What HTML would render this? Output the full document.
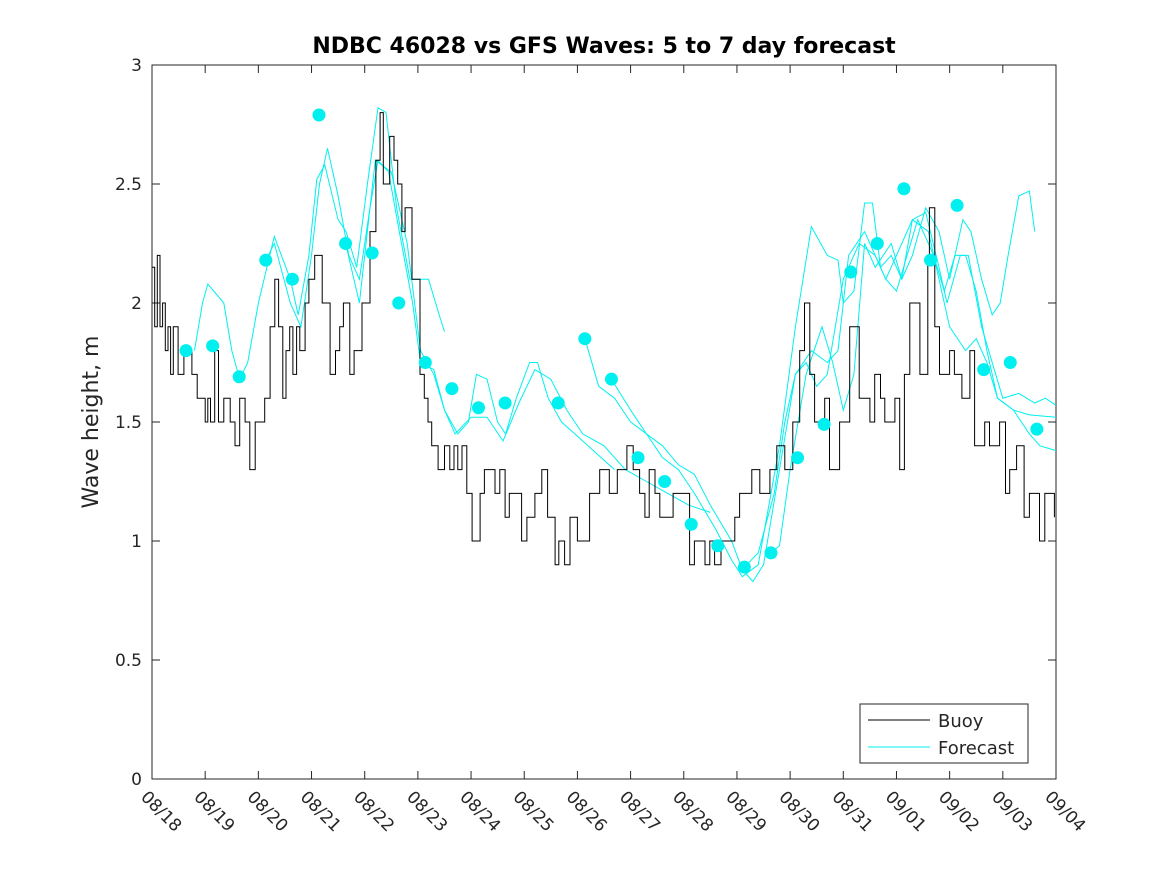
<!DOCTYPE html>
<html><head><meta charset="utf-8"><style>
body{margin:0;background:#fff;}
svg{display:block;font-family:"DejaVu Sans","Liberation Sans",sans-serif;}
</style></head><body>
<svg id="chart" width="1167" height="875" viewBox="0 0 1167 875" xmlns="http://www.w3.org/2000/svg">
<rect width="1167" height="875" fill="#fff"/>
<text x="604" y="53" text-anchor="middle" font-size="22" font-weight="bold" fill="#000">NDBC 46028 vs GFS Waves: 5 to 7 day forecast</text>
<text transform="translate(98,422) rotate(-90)" text-anchor="middle" font-size="22" fill="#262626">Wave height, m</text>
<g id="plot"></g>
</svg>
<script>
const xTickLabels=["08/18","08/19","08/20","08/21","08/22","08/23","08/24","08/25","08/26","08/27","08/28","08/29","08/30","08/31","09/01","09/02","09/03","09/04"];
const yTicks=[0,0.5,1,1.5,2,2.5,3];
const buoyDays=[0,0.05,0.1,0.15,0.2,0.25,0.3,0.35,0.4,0.49,0.6,0.75,0.85,1.0,1.05,1.1,1.18,1.25,1.35,1.47,1.56,1.65,1.75,1.84,1.94,2.03,2.12,2.22,2.31,2.38,2.46,2.52,2.59,2.65,2.72,2.78,2.88,2.95,3.06,3.2,3.35,3.45,3.53,3.6,3.72,3.8,3.95,4.1,4.21,4.29,4.35,4.47,4.55,4.62,4.7,4.76,4.89,5.04,5.12,5.19,5.26,5.38,5.5,5.6,5.68,5.75,5.83,5.92,6.02,6.17,6.25,6.35,6.45,6.54,6.64,6.72,6.82,6.95,7.05,7.2,7.33,7.44,7.58,7.65,7.76,7.86,8.0,8.23,8.42,8.6,8.75,8.93,9.05,9.17,9.27,9.35,9.46,9.55,9.64,9.8,9.92,10.11,10.2,10.3,10.4,10.49,10.58,10.7,10.77,10.96,11.05,11.15,11.28,11.43,11.62,11.75,11.9,12.05,12.18,12.27,12.37,12.46,12.65,12.74,12.93,13.12,13.3,13.5,13.59,13.7,13.78,13.97,14.06,14.15,14.25,14.44,14.59,14.62,14.72,14.81,15.0,15.09,15.23,15.38,15.47,15.66,15.75,15.94,16.05,16.13,16.26,16.4,16.5,16.69,16.79,16.97];
const buoyValues=[2.15,1.9,2.2,1.9,2.0,1.8,1.9,1.7,1.9,1.7,1.8,1.7,1.6,1.5,1.6,1.5,1.8,1.5,1.6,1.5,1.4,1.6,1.5,1.3,1.5,1.5,1.6,1.9,2.1,1.9,1.6,1.8,1.9,1.7,1.9,1.8,2.0,2.1,2.2,2.0,1.7,1.8,1.9,2.0,1.7,1.8,2.0,2.3,2.6,2.8,2.5,2.7,2.6,2.5,2.3,2.4,2.1,1.7,1.6,1.5,1.4,1.3,1.4,1.3,1.4,1.3,1.4,1.2,1.0,1.2,1.3,1.3,1.2,1.3,1.1,1.2,1.2,1.0,1.1,1.2,1.3,1.1,0.9,1.0,0.9,1.1,1.0,1.2,1.3,1.2,1.3,1.4,1.3,1.2,1.1,1.3,1.2,1.1,1.1,1.2,1.2,0.9,1.0,1.0,0.9,1.0,0.9,1.0,1.0,1.1,1.2,1.2,1.3,1.2,1.3,1.4,1.3,1.5,1.8,2.0,1.7,1.5,1.6,1.3,1.5,1.9,1.6,1.5,1.7,1.6,1.5,1.6,1.3,1.7,2.0,1.7,2.2,2.4,1.9,1.7,1.8,1.7,1.6,1.8,1.4,1.5,1.4,1.5,1.2,1.3,1.4,1.1,1.2,1.0,1.2,1.1,1.2,1.0,1.1,1.0];
const dotDays=[0.64,1.14,1.64,2.14,2.64,3.14,3.64,4.14,4.64,5.14,5.64,6.14,6.64,7.64,8.14,8.64,9.14,9.64,10.14,10.64,11.14,11.64,12.14,12.64,13.14,13.64,14.14,14.64,15.14,15.64,16.14,16.64];
const dotValues=[1.8,1.82,1.69,2.18,2.1,2.79,2.25,2.21,2.0,1.75,1.64,1.56,1.58,1.58,1.85,1.68,1.35,1.25,1.07,0.98,0.89,0.95,1.35,1.49,2.13,2.25,2.48,2.18,2.41,1.72,1.75,1.47];
const fc1Days=[0.8,0.95,1.05,1.35,1.5,1.65,1.8,2.0,2.3,2.6,2.75,2.95,3.1,3.25,3.5,3.65,3.85,4.05,4.25,4.4,4.6,4.85,5.2,5.4,5.5];
const fc1Values=[1.8,2.0,2.08,2.0,1.8,1.68,1.75,2.0,2.28,2.1,1.95,2.2,2.52,2.58,2.35,2.3,2.15,2.5,2.82,2.8,2.4,2.1,2.1,1.95,1.88];
const fc2Days=[2.14,2.3,2.6,2.8,3.0,3.15,3.3,3.5,3.7,3.9,4.1,4.25,4.45,4.65,4.9,5.05,5.3,5.5,5.75,5.95,6.1,6.3,6.5,6.65,6.85,7.1,7.25,7.45,7.7,7.95,8.2,8.45,8.7];
const fc2Values=[2.18,2.25,2.0,1.9,2.2,2.5,2.65,2.45,2.2,2.1,2.4,2.6,2.55,2.3,2.0,1.75,1.72,1.55,1.45,1.5,1.7,1.68,1.5,1.45,1.6,1.75,1.75,1.6,1.5,1.45,1.4,1.35,1.3];
const fc3Days=[3.64,3.9,4.2,4.5,4.8,5.05,5.3,5.5,5.7,6.0,6.3,6.6,6.9,7.2,7.5,7.8,8.1,8.5,8.9,9.3,9.7,10.1,10.5];
const fc3Values=[2.25,2.0,2.6,2.55,2.25,1.8,1.7,1.55,1.45,1.52,1.52,1.42,1.58,1.72,1.68,1.55,1.45,1.4,1.3,1.25,1.2,1.15,1.12];
const fc4Days=[8.14,8.4,8.7,9.0,9.3,9.6,9.9,10.2,10.6,10.9,11.1,11.4,11.8,12.1,12.4,12.7,12.9,13.0,13.2,13.4,13.55,13.7,13.9,14.1,14.3,14.55,14.8,15.0,15.25,15.4,15.6,15.8,15.95,16.1,16.3,16.5,16.6];
const fc4Values=[1.85,1.65,1.6,1.5,1.45,1.35,1.3,1.2,1.05,0.92,0.85,0.9,1.4,1.9,2.32,2.2,2.18,2.0,2.05,2.42,2.42,2.15,2.2,2.1,2.2,2.4,2.3,2.1,2.35,2.3,2.1,1.95,2.0,2.2,2.45,2.47,2.3];
const fc5Days=[8.64,9.0,9.3,9.6,9.9,10.2,10.5,10.9,11.1,11.3,11.5,11.8,12.1,12.4,12.7,12.9,13.1,13.4,13.6,13.8,14.0,14.2,14.4,14.7,14.9,15.1,15.3,15.5,15.7,15.9,16.2,16.5,17.0];
const fc5Values=[1.68,1.55,1.45,1.4,1.32,1.28,1.15,1.0,0.88,0.83,0.9,1.3,1.7,1.8,1.75,1.8,2.2,2.3,2.2,2.1,2.05,2.2,2.35,2.2,2.05,2.2,2.2,2.05,1.8,1.6,1.55,1.53,1.52];
const fc6Days=[11.14,11.4,11.7,11.9,12.1,12.3,12.5,12.7,13.0,13.3,13.6,13.8,14.0,14.3,14.6,14.8,15.0,15.3,15.5,15.7,15.9,16.2,16.5,16.7,17.0];
const fc6Values=[0.89,0.95,1.2,1.5,1.7,1.75,1.65,1.7,2.1,2.25,2.2,2.1,2.2,2.35,2.3,2.1,1.9,1.8,1.85,1.75,1.6,1.55,1.45,1.4,1.38];
const fc7Days=[11.64,11.8,12.0,12.3,12.6,12.8,13.0,13.2,13.4,13.6,13.9,14.1,14.3,14.55,14.8,14.95,15.2,15.35,15.6,15.8,16.0,16.3,16.6,16.8,17.0];
const fc7Values=[0.95,0.98,1.3,1.7,1.9,1.75,1.55,1.7,2.25,2.15,2.25,2.1,2.35,2.38,2.15,2.0,2.2,2.2,1.9,1.75,1.6,1.62,1.58,1.6,1.57];
const fcDays=[fc1Days,fc2Days,fc3Days,fc4Days,fc5Days,fc6Days,fc7Days];
const fcValues=[fc1Values,fc2Values,fc3Values,fc4Values,fc5Values,fc6Values,fc7Values];

const L=152,R=1056,T=65,B=779;
const xs=d=>L+(R-L)*d/17;
const ys=v=>B-(B-T)*v/3;
const NS="http://www.w3.org/2000/svg";
const g=document.getElementById('plot');
function mk(t,a,p){const e=document.createElementNS(NS,t);for(const k in a)e.setAttribute(k,a[k]);(p||g).appendChild(e);return e;}

const frame=mk('rect',{x:L,y:T,width:R-L,height:B-T,fill:'#fff',stroke:'#262626','stroke-width':1});



yTicks.forEach(v=>{
  const y=ys(v);
  mk('line',{x1:L,x2:L+8,y1:y,y2:y,stroke:'#262626'});
  mk('line',{x1:R,x2:R-8,y1:y,y2:y,stroke:'#262626'});
  const t=mk('text',{x:L-10,y:y+6,'text-anchor':'end','font-size':17,fill:'#262626'});
  t.textContent=String(v);
  
  
});
xTickLabels.forEach((s,i)=>{
  const x=xs(i);
  mk('line',{x1:x,x2:x,y1:B,y2:B-8,stroke:'#262626'});
  mk('line',{x1:x,x2:x,y1:T,y2:T+8,stroke:'#262626'});
  const t=mk('text',{transform:`translate(${x-12},${B+19}) rotate(45)`,'font-size':17,fill:'#262626'});
  t.textContent=s;
  
  
});

fcDays.forEach((ds,k)=>{
  const pts=ds.map((d,i)=>xs(d).toFixed(1)+','+ys(fcValues[k][i]).toFixed(1)).join(' ');
  const pl=mk('polyline',{points:pts,fill:'none',stroke:'#00f0f0','stroke-width':1});
  
  
});

let bp=[];
buoyDays.forEach((d,i)=>{
  const x=xs(d).toFixed(1);
  if(i>0)bp.push(x+','+ys(buoyValues[i-1]).toFixed(1));
  bp.push(x+','+ys(buoyValues[i]).toFixed(1));
});
const bl=mk('polyline',{points:bp.join(' '),fill:'none',stroke:'#000','stroke-width':1});



dotDays.forEach((d,i)=>{
  const c=mk('circle',{cx:xs(d),cy:ys(dotValues[i]),r:6.5,fill:'#00f0f0'});
  
  
});

const lg=mk('g',{});


mk('rect',{x:860,y:704,width:168,height:59,fill:'#fff',stroke:'#262626'},lg);
mk('line',{x1:868,x2:930,y1:720,y2:720,stroke:'#000'},lg);
const t1=mk('text',{x:938,y:727,'font-size':18,fill:'#262626'},lg);t1.textContent='Buoy';


mk('line',{x1:868,x2:930,y1:747,y2:747,stroke:'#00f0f0'},lg);
const t2=mk('text',{x:938,y:754,'font-size':18,fill:'#262626'},lg);t2.textContent='Forecast';


</script>
</body></html>
